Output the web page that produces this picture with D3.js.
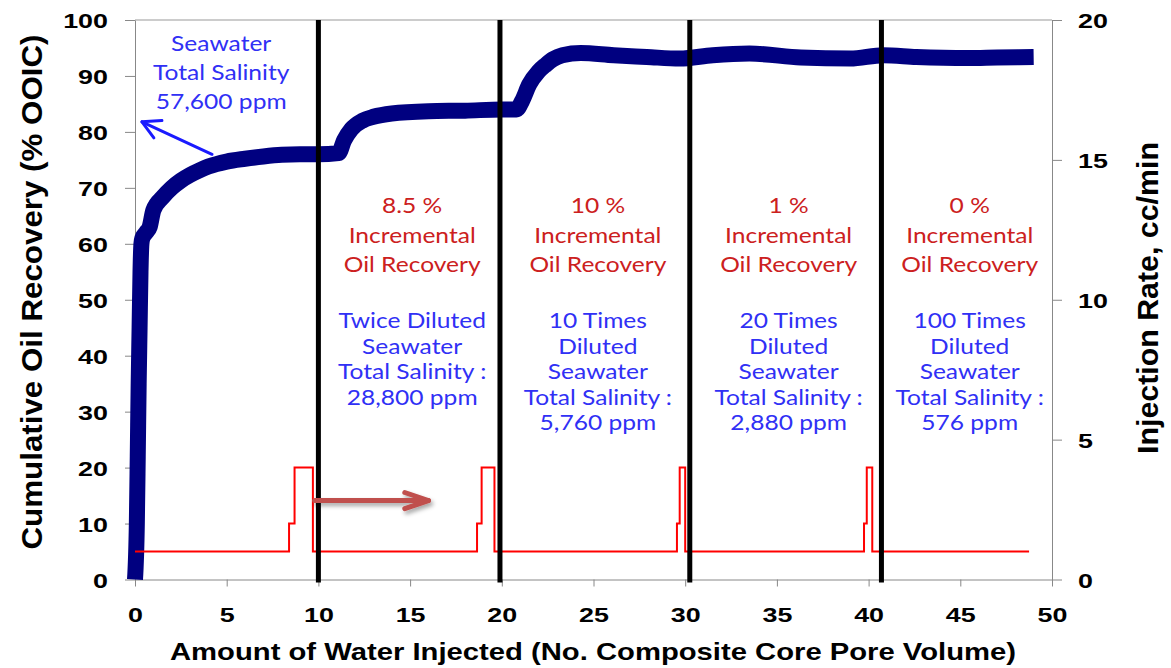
<!DOCTYPE html>
<html>
<head>
<meta charset="utf-8">
<script src="https://cdn.jsdelivr.net/npm/d3@7"></script>
<style>
body { margin: 0; background: #fff; }
svg { display: block; }
</style>
</head>
<body>
<svg id="chart" width="1171" height="668"></svg>
<script>
// cumulative oil recovery (% OOIC) vs pore volumes injected
var recoveryPV = [0, 0.1, 0.15, 0.2, 0.25, 0.3, 0.35, 0.4, 0.6, 0.8, 1, 1.5, 2, 2.5, 3, 3.5, 4, 5, 6, 7, 8, 9, 10, 11.1,
    11.4, 11.8, 12.4, 13, 14, 16, 18, 20, 20.8, 21.1, 21.5, 22, 22.4, 22.8, 23.3, 24.3, 26.1, 27.9, 29.7,
    31.5, 33.5, 36.3, 39, 40.8, 42.6, 45.4, 47, 49];
var recoveryPct = [0, 10, 22, 35, 45, 55, 60, 61, 62, 63, 66, 68.3, 70, 71.3, 72.3, 73.1, 73.8, 74.7, 75.2, 75.6, 75.9, 76, 76, 76.2,
    78.5, 80.5, 82, 82.7, 83.3, 83.7, 83.8, 84, 84, 85.5, 88.5, 90.8, 92, 93, 93.7, 94.1, 93.7, 93.4, 93.1,
    93.7, 94, 93.3, 93.1, 93.7, 93.4, 93.2, 93.3, 93.4];

// injection rate (cc/min), stepwise
var ratePV = [0, 8.4, 8.7, 9.7, 18.65, 18.9, 19.6, 29.55, 29.7, 30.0, 39.75, 39.9, 40.2, 48.75];
var rateCC = [1, 2, 4, 1, 2, 4, 1, 2, 4, 1, 2, 4, 1, 1];

// brine switches
var switchPV = [10, 19.9, 30.25, 40.7];

var xTicks = [0, 5, 10, 15, 20, 25, 30, 35, 40, 45, 50];
var leftTicks = [0, 10, 20, 30, 40, 50, 60, 70, 80, 90, 100];
var rightTicks = [0, 5, 10, 15, 20];

var seawaterLabels = ['Seawater', 'Total Salinity', '57,600 ppm'];
var incrementLabels = ['8.5 %', '10 %', '1 %', '0 %'];
var brineLabels = [
    ['Twice Diluted', 'Seawater', 'Total Salinity :', '28,800 ppm'],
    ['10 Times', 'Diluted', 'Seawater', 'Total Salinity :', '5,760 ppm'],
    ['20 Times', 'Diluted', 'Seawater', 'Total Salinity :', '2,880 ppm'],
    ['100 Times', 'Diluted', 'Seawater', 'Total Salinity :', '576 ppm']
];

var AXIS_FONT = '"Liberation Sans", Arial, sans-serif';
var NOTE_FONT = 'Lato, "Open Sans", sans-serif';
var TICK_STRETCH = 1.28;
var NOTE_STRETCH = 1.17;

var svg = d3.select('#chart');
var x = d3.scaleLinear().domain([0, 50]).range([135, 1052]);
var yL = d3.scaleLinear().domain([0, 100]).range([579.5, 20]);
var yR = d3.scaleLinear().domain([0, 20]).range([579.5, 20]);

var defs = svg.append('defs');
defs.append('filter').attr('id', 'shadow')
    .attr('x', '-20%').attr('y', '-100%').attr('width', '140%').attr('height', '300%')
    .append('feDropShadow')
    .attr('dx', 2).attr('dy', 3).attr('stdDeviation', 2)
    .attr('flood-color', '#000').attr('flood-opacity', 0.35);

// top frame of plot area
svg.append('line')
    .attr('x1', x(0)).attr('x2', x(50))
    .attr('y1', yL(100)).attr('y2', yL(100))
    .attr('stroke', '#999');

function styleAxis(g) {
    g.select('.domain').attr('stroke', '#888');
    g.selectAll('.tick line').attr('stroke', '#888');
    g.selectAll('.tick text')
        .attr('fill', '#000')
        .style('font-family', AXIS_FONT)
        .style('font-weight', 'bold')
        .style('font-size', '21px');
}

var gx = svg.append('g')
    .attr('transform', 'translate(0,' + yL(0) + ')')
    .call(d3.axisBottom(x).tickValues(xTicks).tickSize(7).tickSizeOuter(0));
styleAxis(gx);
gx.selectAll('.tick text')
    .attr('y', 42.5).attr('dy', 0)
    .attr('transform', 'scale(' + TICK_STRETCH + ',1)');

var gl = svg.append('g')
    .attr('transform', 'translate(' + x(0) + ',0)')
    .call(d3.axisLeft(yL).tickValues(leftTicks).tickSize(10).tickSizeOuter(0));
styleAxis(gl);
gl.selectAll('.tick text')
    .attr('x', 0).attr('dy', '0.36em')
    .attr('transform', 'translate(-27,0) scale(' + TICK_STRETCH + ',1)');

var gr = svg.append('g')
    .attr('transform', 'translate(' + x(50) + ',0)')
    .call(d3.axisRight(yR).tickValues(rightTicks).tickSize(10).tickSizeOuter(0));
styleAxis(gr);
gr.selectAll('.tick text')
    .attr('x', 0).attr('dy', '0.36em')
    .attr('transform', 'translate(26,0) scale(' + TICK_STRETCH + ',1)');

// axis titles
svg.append('text')
    .attr('x', 593).attr('y', 660)
    .attr('text-anchor', 'middle')
    .attr('textLength', 846).attr('lengthAdjust', 'spacingAndGlyphs')
    .style('font', 'bold 24px ' + AXIS_FONT)
    .text('Amount of Water Injected  (No. Composite Core Pore Volume)');

svg.append('text')
    .attr('transform', 'translate(42,292) rotate(-90)')
    .attr('text-anchor', 'middle')
    .attr('textLength', 515).attr('lengthAdjust', 'spacingAndGlyphs')
    .style('font', 'bold 30px ' + AXIS_FONT)
    .text('Cumulative Oil Recovery  (% OOIC)');

svg.append('text')
    .attr('transform', 'translate(1158,298) rotate(-90)')
    .attr('text-anchor', 'middle')
    .attr('textLength', 312).attr('lengthAdjust', 'spacingAndGlyphs')
    .style('font', 'bold 30px ' + AXIS_FONT)
    .text('Injection Rate, cc/min');

// oil recovery curve
var recovery = recoveryPV.map(function(v, i) { return [v, recoveryPct[i]]; });
svg.append('path')
    .datum(recovery)
    .attr('fill', 'none')
    .attr('stroke', '#000080')
    .attr('stroke-width', 16)
    .attr('stroke-linejoin', 'round')
    .attr('d', d3.line()
        .x(function(d) { return x(d[0]); })
        .y(function(d) { return yL(d[1]); })
        .curve(d3.curveMonotoneX));

// injection rate
var rate = ratePV.map(function(v, i) { return [v, rateCC[i]]; });
svg.append('path')
    .datum(rate)
    .attr('fill', 'none')
    .attr('stroke', '#ff0000')
    .attr('stroke-width', 2)
    .attr('d', d3.line()
        .x(function(d) { return x(d[0]); })
        .y(function(d) { return yR(d[1]); })
        .curve(d3.curveStepAfter));

// brine switch lines
svg.selectAll('.switch')
    .data(switchPV)
    .enter().append('line')
    .attr('class', 'switch')
    .attr('x1', function(d) { return x(d); })
    .attr('x2', function(d) { return x(d); })
    .attr('y1', yL(100))
    .attr('y2', yL(0) + 3)
    .attr('stroke', '#000')
    .attr('stroke-width', 5);

function arrow(x1, y1, x2, y2, color, width, head, spread) {
    var g = svg.append('g')
        .attr('stroke', color)
        .attr('stroke-width', width)
        .attr('stroke-linecap', 'round')
        .attr('fill', 'none');
    var a = Math.atan2(y1 - y2, x1 - x2);
    g.append('line').attr('x1', x1).attr('y1', y1).attr('x2', x2).attr('y2', y2);
    g.append('path').attr('stroke-linejoin', 'round').attr('d',
        'M' + (x2 + head * Math.cos(a + spread)) + ',' + (y2 + head * Math.sin(a + spread)) +
        'L' + x2 + ',' + y2 +
        'L' + (x2 + head * Math.cos(a - spread)) + ',' + (y2 + head * Math.sin(a - spread)));
    return g;
}

arrow(x(4.2), yL(76), x(0.38), yL(81.8), '#1a1aff', 3, 20, 0.5);
arrow(x(9.8), yL(14.1), x(16), yL(14.1), '#c0504d', 5, 25, 0.33)
    .attr('filter', 'url(#shadow)');

function noteLines(lines, cx, y0, step, color) {
    lines.forEach(function(t, i) {
        svg.append('text')
            .attr('transform', 'translate(' + cx + ',' + (y0 + i * step) + ') scale(' + NOTE_STRETCH + ',1)')
            .attr('text-anchor', 'middle')
            .attr('fill', color)
            .style('font-family', NOTE_FONT)
            .style('font-size', '21px')
            .text(t);
    });
}

noteLines(seawaterLabels, x(4.7), 51, 29, '#3030f5');

var bounds = switchPV.concat([50]);
incrementLabels.forEach(function(lab, i) {
    var cx = x((bounds[i] + bounds[i + 1]) / 2) + 3;
    noteLines([lab, 'Incremental', 'Oil Recovery'], cx, 213, 29.5, '#cc2020');
    noteLines(brineLabels[i], cx, 328, 25.5, '#3030f5');
});
</script>
</body>
</html>
